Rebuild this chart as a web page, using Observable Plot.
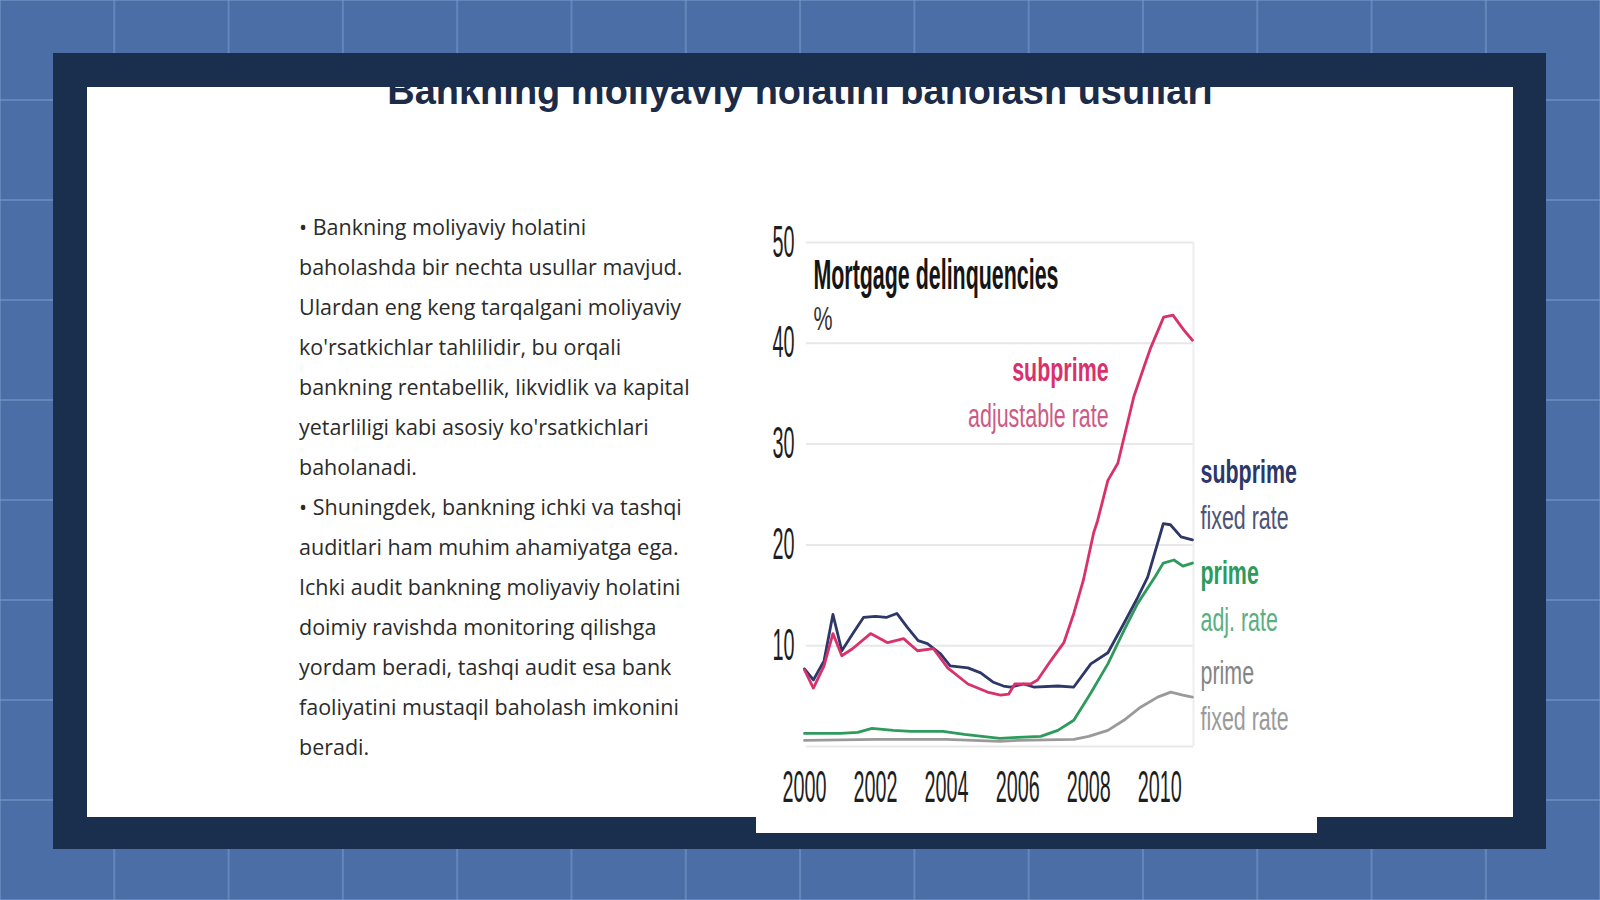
<!DOCTYPE html>
<html>
<head>
<meta charset="utf-8">
<script src="https://cdn.jsdelivr.net/npm/d3@7"></script>
<script src="https://cdn.jsdelivr.net/npm/@observablehq/plot@0.6"></script>
<style>
  html, body { margin: 0; padding: 0; }
  body {
    width: 1600px; height: 900px; overflow: hidden; position: relative;
    background-color: #4a6ea5;
    background-image:
      linear-gradient(to right, rgba(120,155,205,0.55) 2px, transparent 2px),
      linear-gradient(to bottom, rgba(120,155,205,0.55) 2px, transparent 2px);
    background-size: 114.3px 100px;
    background-position: -1px -1px;
  }
  #frame { position: absolute; left: 53px; top: 53px; width: 1493px; height: 796px; background: #1a2e4d; }
  #slide { position: absolute; left: 87px; top: 87px; width: 1426px; height: 730px; background: #fff; overflow: hidden; }
  #title {
    position: absolute; left: 0; width: 1426px; top: -18px; text-align: center;
    font-family: "Liberation Sans", Arial, sans-serif; font-weight: bold; font-size: 38px;
    line-height: 44px; color: #1b2b48; white-space: nowrap;
  }
  #body {
    position: absolute; left: 212px; top: 120px;
    font-family: "Open Sans", sans-serif; font-size: 21.5px; line-height: 40px; color: #2b2b2b;
    white-space: nowrap;
  }
  #chartbox { position: absolute; left: 756px; top: 215px; width: 561px; height: 618px; background: #fff; }
  #chartbox svg { display: block; }
</style>
</head>
<body>
<div id="frame"></div>
<div id="slide">
  <div id="title">Bankning moliyaviy holatini baholash usullari</div>
  <div id="body"></div>
</div>
<div id="chartbox"></div>
<script>
// ---- slide text ----
const bodyLines = [
  "• Bankning moliyaviy holatini",
  "baholashda bir nechta usullar mavjud.",
  "Ulardan eng keng tarqalgani moliyaviy",
  "ko'rsatkichlar tahlilidir, bu orqali",
  "bankning rentabellik, likvidlik va kapital",
  "yetarliligi kabi asosiy ko'rsatkichlari",
  "baholanadi.",
  "• Shuningdek, bankning ichki va tashqi",
  "auditlari ham muhim ahamiyatga ega.",
  "Ichki audit bankning moliyaviy holatini",
  "doimiy ravishda monitoring qilishga",
  "yordam beradi, tashqi audit esa bank",
  "faoliyatini mustaqil baholash imkonini",
  "beradi."
];
const bodyEl = document.getElementById("body");
bodyLines.forEach(t => { const d = document.createElement("div"); d.textContent = t; bodyEl.appendChild(d); });

// ---- chart data (% of loans delinquent) ----
const subFixedYears  = [2000.0, 2000.25, 2000.55, 2000.8, 2001.05, 2001.38, 2001.66, 2002.0, 2002.3, 2002.6, 2002.9, 2003.2, 2003.46, 2003.83, 2004.1, 2004.6, 2004.96, 2005.3, 2005.6, 2005.8, 2006.17, 2006.45, 2007.13, 2007.58, 2008.06, 2008.54, 2008.99, 2009.38, 2009.66, 2010.1, 2010.3, 2010.6, 2010.92];
const subFixedValues = [7.7, 6.6, 8.5, 13.1, 9.5, 11.3, 12.8, 12.9, 12.8, 13.2, 11.8, 10.5, 10.2, 9.2, 8.0, 7.8, 7.3, 6.4, 6.0, 5.9, 6.2, 5.9, 6.0, 5.9, 8.2, 9.3, 12.2, 14.8, 16.8, 22.1, 22.0, 20.8, 20.5];

const subAdjYears  = [2000.0, 2000.25, 2000.55, 2000.8, 2001.05, 2001.35, 2001.86, 2002.34, 2002.79, 2003.18, 2003.63, 2004.03, 2004.6, 2005.15, 2005.52, 2005.75, 2005.92, 2006.37, 2006.56, 2006.93, 2007.3, 2007.58, 2007.85, 2008.14, 2008.25, 2008.54, 2008.82, 2009.27, 2009.55, 2009.75, 2010.11, 2010.37, 2010.68, 2010.92];
const subAdjValues = [7.6, 5.8, 8.0, 11.2, 9.0, 9.7, 11.2, 10.3, 10.7, 9.5, 9.7, 7.8, 6.2, 5.4, 5.1, 5.2, 6.2, 6.2, 6.6, 8.5, 10.3, 13.2, 16.5, 21.2, 22.4, 26.4, 28.1, 34.7, 37.6, 39.6, 42.6, 42.8, 41.3, 40.3];

const primeAdjYears  = [2000.0, 2001.0, 2001.5, 2001.9, 2002.5, 2003.0, 2003.9, 2004.5, 2005.5, 2006.0, 2006.65, 2007.13, 2007.58, 2008.06, 2008.54, 2008.99, 2009.38, 2009.86, 2010.1, 2010.4, 2010.65, 2010.92];
const primeAdjValues = [1.3, 1.3, 1.4, 1.8, 1.6, 1.5, 1.5, 1.2, 0.8, 0.9, 1.0, 1.6, 2.6, 5.3, 8.2, 11.5, 14.2, 16.8, 18.2, 18.5, 17.9, 18.2];

const primeFixedYears  = [2000.0, 2002.0, 2004.0, 2005.5, 2006.0, 2007.58, 2008.0, 2008.54, 2008.99, 2009.46, 2009.94, 2010.31, 2010.65, 2010.92];
const primeFixedValues = [0.6, 0.7, 0.7, 0.5, 0.6, 0.7, 1.0, 1.6, 2.6, 3.9, 4.9, 5.4, 5.1, 4.9];

const seriesNames = ["prime fixed", "prime adj", "subprime fixed", "subprime adj"];
const xTicks = [2000, 2002, 2004, 2006, 2008, 2010];
const yTicks = [10, 20, 30, 40, 50];
const gridValues = [0, 10, 20, 30, 40, 50];

// annotation text and anchors (data units)
const titleText = "Mortgage delinquencies";
const unitText = "%";
const pinkLabels = ["subprime", "adjustable rate"];
const pinkLabelY = [36.3, 31.7];
const rightLabels = ["subprime", "fixed rate", "prime", "adj. rate", "prime", "fixed rate"];
const rightLabelY = [26.1, 21.6, 16.1, 11.5, 6.2, 1.6];

// ---- build tables ----
const zip = (name, xs, ys) => xs.map((x, i) => ({series: name, year: x, value: ys[i]}));
const lines = [
  ...zip(seriesNames[0], primeFixedYears, primeFixedValues),
  ...zip(seriesNames[1], primeAdjYears, primeAdjValues),
  ...zip(seriesNames[2], subFixedYears, subFixedValues),
  ...zip(seriesNames[3], subAdjYears, subAdjValues)
];
const colors = ["#9a9a9a", "#2e9a5c", "#2d3768", "#d8316c"];
const rightFills = ["#2d3768", "#4d5276", "#2e9a5c", "#5aae80", "#858585", "#9a9a9a"];
const rightBold = [true, false, true, false, false, false];
const rightTable = rightLabels.map((t, i) => ({text: t, y: rightLabelY[i], fill: rightFills[i], bold: rightBold[i]}));
const pinkTable = pinkLabels.map((t, i) => ({text: t, y: pinkLabelY[i], fill: i === 0 ? "#d8316c" : "#cc5a85", bold: i === 0}));

const xEnd = 2010.95;
const labelCommon = {y: "y", text: "text", lineAnchor: "bottom", fontSize: 34, fill: "fill"};
const chart = Plot.plot({
  width: 561, height: 618,
  marginTop: 27, marginBottom: 87, marginLeft: 48, marginRight: 124,
  x: {domain: [2000, xEnd], label: null},
  y: {domain: [0, 50], label: null},
  color: {domain: seriesNames, range: colors},
  style: {background: "transparent", fontFamily: "'Liberation Sans', Arial, sans-serif", color: "#1e1e1e"},
  marks: [
    Plot.ruleY(gridValues, {x1: 2000.05, x2: xEnd, stroke: "#e8e8e8", strokeWidth: 2}),
    Plot.ruleX([xEnd], {y1: 0, y2: 50, stroke: "#eeeeee", strokeWidth: 2}),
    Plot.axisX({ticks: xTicks, tickFormat: "d", tickSize: 0, tickPadding: 24, fontSize: 44, label: null}),
    Plot.axisY({ticks: yTicks, tickSize: 0, tickPadding: 10, fontSize: 44, label: null}),
    Plot.line(lines, {x: "year", y: "value", z: "series", stroke: "series", strokeWidth: 2.8, strokeLinejoin: "round"}),
    Plot.text([titleText], {x: 2000.25, y: 45.4, text: d => d, textAnchor: "start", lineAnchor: "bottom", fontSize: 42, fontWeight: "bold", fill: "#151515"}),
    Plot.text([unitText], {x: 2000.25, y: 41.3, text: d => d, textAnchor: "start", lineAnchor: "bottom", fontSize: 34, fill: "#333"}),
    Plot.text(pinkTable, {...labelCommon, x: 2008.56, textAnchor: "end", filter: d => d.bold, fontWeight: "bold"}),
    Plot.text(pinkTable, {...labelCommon, x: 2008.56, textAnchor: "end", filter: d => !d.bold}),
    Plot.text(rightTable, {...labelCommon, x: xEnd, dx: 7, textAnchor: "start", filter: d => d.bold, fontWeight: "bold"}),
    Plot.text(rightTable, {...labelCommon, x: xEnd, dx: 7, textAnchor: "start", filter: d => !d.bold})
  ]
});
document.getElementById("chartbox").appendChild(chart);

// condense text horizontally (scale about each text's anchor) to mimic the tall narrow chart lettering
const tickStrings = new Set([...xTicks, ...yTicks].map(String));
chart.querySelectorAll("text").forEach(el => {
  const s = el.textContent;
  const f = tickStrings.has(s) ? 0.45 : s === titleText ? 0.51 : 0.63;
  const xa = el.getAttribute("x");
  const x = xa !== null && /^-?[\d.]+$/.test(xa) ? +xa : 0;
  if (x !== 0) el.removeAttribute("x");
  const t = el.getAttribute("transform") || "";
  el.setAttribute("transform", `${t} translate(${x},0) scale(${f},1)`);
});
</script>
</body>
</html>
